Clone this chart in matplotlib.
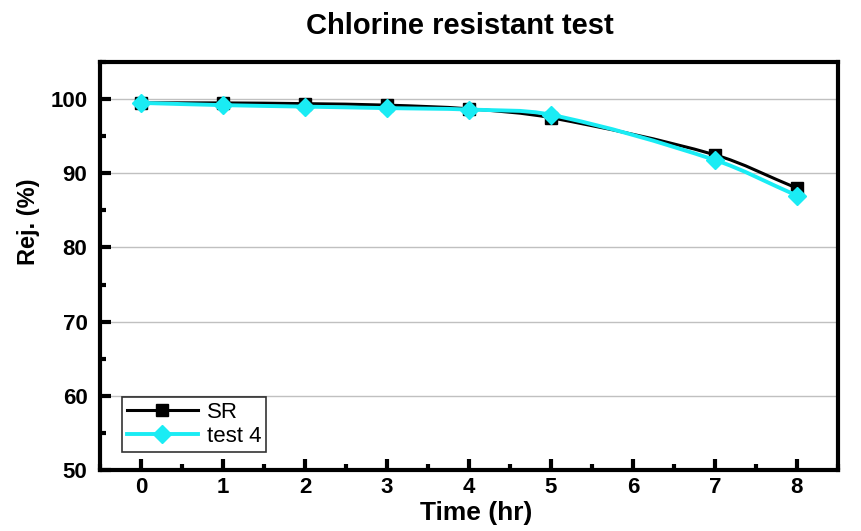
import numpy as np
import matplotlib.pyplot as plt
from matplotlib.path import Path
from matplotlib.patches import PathPatch
from matplotlib.ticker import MultipleLocator

plt.rcParams['font.family'] = ['Liberation Sans', 'DejaVu Sans']
plt.rcParams['font.weight'] = 'bold'

# Data
time_hr = [0, 1, 2, 3, 4, 5, 7, 8]
rej_sr = [99.5, 99.5, 99.4, 99.2, 98.7, 97.5, 92.5, 88.0]
rej_test4 = [99.5, 99.2, 99.0, 98.8, 98.6, 97.9, 91.8, 87.0]


def smooth_path(x, y):
    # cubic Hermite curve through the data, drawn as bezier segments
    x = np.asarray(x, float)
    y = np.asarray(y, float)
    n = len(x)
    m = np.zeros(n)
    m[0] = (y[1] - y[0]) / (x[1] - x[0])
    m[-1] = (y[-1] - y[-2]) / (x[-1] - x[-2])
    for i in range(1, n - 1):
        m[i] = (y[i + 1] - y[i - 1]) / (x[i + 1] - x[i - 1])
    verts = [(x[0], y[0])]
    codes = [Path.MOVETO]
    for i in range(n - 1):
        h = x[i + 1] - x[i]
        verts += [(x[i] + h / 3, y[i] + m[i] * h / 3),
                  (x[i + 1] - h / 3, y[i + 1] - m[i + 1] * h / 3),
                  (x[i + 1], y[i + 1])]
        codes += [Path.CURVE4] * 3
    return Path(verts, codes)


fig, ax = plt.subplots(figsize=(8.62, 5.31), dpi=100)
fig.subplots_adjust(left=0.116, right=0.972, top=0.883, bottom=0.115)

cyan = '#1AECF4'

ax.add_patch(PathPatch(smooth_path(time_hr, rej_sr), facecolor='none',
                       edgecolor='black', lw=2.2, zorder=3))
ax.add_patch(PathPatch(smooth_path(time_hr, rej_test4), facecolor='none',
                       edgecolor=cyan, lw=2.8, zorder=4))
ax.plot(time_hr, rej_sr, linestyle='none', marker='s', color='black',
        markersize=8, zorder=3)
ax.plot(time_hr, rej_test4, linestyle='none', marker='D', color=cyan,
        markersize=9, zorder=4)

# legend handles
ax.plot([], [], '-s', color='black', lw=2.2, markersize=8, label='SR')
ax.plot([], [], '-D', color=cyan, lw=2.8, markersize=9, label='test 4')

ax.set_xlim(-0.5, 8.5)
ax.set_ylim(50, 105)
ax.xaxis.set_major_locator(MultipleLocator(1))
ax.xaxis.set_minor_locator(MultipleLocator(0.5))
ax.yaxis.set_major_locator(MultipleLocator(10))
ax.yaxis.set_minor_locator(MultipleLocator(5))
ax.grid(axis='y', which='major', color='#c0c0c0', lw=1)
ax.set_axisbelow(True)

for s in ax.spines.values():
    s.set_linewidth(3)
ax.tick_params(which='major', direction='in', length=8, width=3,
               labelsize=16)
ax.tick_params(axis='y', pad=9)
ax.tick_params(axis='x', pad=5)
ax.tick_params(which='minor', direction='in', length=4, width=3)
ax.tick_params(top=False, right=False, which='both')

ax.set_title('Chlorine resistant test', fontsize=21, fontweight='bold',
             pad=20, x=0.488)
ax.set_xlabel('Time (hr)', fontsize=19, fontweight='bold')
ax.xaxis.set_label_coords(0.51, -0.075)
ax.xaxis.label.set_va('top')
ax.set_ylabel('Rej. (%)', fontsize=17, fontweight='bold')
ax.yaxis.set_label_coords(-0.081, 0.608)

leg = ax.legend(loc='lower left', fontsize=16, frameon=True, fancybox=False,
                edgecolor='black', handlelength=3.2, handletextpad=0.4,
                borderpad=0.2, labelspacing=0.15, borderaxespad=0,
                bbox_to_anchor=(0.03, 0.045))
leg.get_frame().set_linewidth(1.2)
for t in leg.get_texts():
    t.set_fontweight('normal')

fig.savefig('out.png', dpi=100)
